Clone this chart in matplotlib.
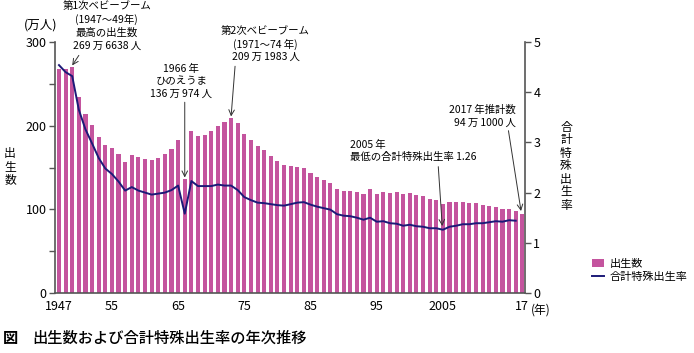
import matplotlib
matplotlib.use("Agg")
import matplotlib.pyplot as plt
from matplotlib.ticker import MultipleLocator

plt.rcParams["font.family"] = ["Noto Sans CJK JP", "DejaVu Sans"]

years = list(range(1947, 2018))
births = [267.9, 268.2, 269.7, 233.8, 213.8, 200.5, 186.8, 177.0, 173.1, 166.5,
          156.7, 165.3, 162.6, 160.6, 158.9, 161.9, 166.0, 171.7, 182.4, 136.1,
          193.6, 187.2, 188.9, 193.4, 200.1, 203.9, 209.2, 203.0, 190.1, 183.3,
          175.5, 170.9, 164.3, 157.7, 152.9, 151.5, 150.9, 149.0, 143.2, 138.3,
          134.7, 131.4, 124.7, 122.2, 122.3, 120.9, 118.8, 123.8, 118.7, 120.7,
          119.2, 120.3, 117.8, 119.1, 117.1, 115.4, 112.4, 111.1, 106.3, 109.3,
          109.0, 109.1, 107.0, 107.1, 105.1, 103.7, 103.0, 100.4, 100.6, 97.7,
          94.1]
tfr_years = list(range(1947, 2017))
tfr = [4.54, 4.40, 4.32, 3.65, 3.26, 2.98, 2.69, 2.48, 2.37, 2.22,
       2.04, 2.11, 2.04, 2.00, 1.96, 1.98, 2.00, 2.05, 2.14, 1.58,
       2.23, 2.13, 2.13, 2.13, 2.16, 2.14, 2.14, 2.05, 1.91, 1.85,
       1.80, 1.79, 1.77, 1.75, 1.74, 1.77, 1.80, 1.81, 1.76, 1.72,
       1.69, 1.66, 1.57, 1.54, 1.53, 1.50, 1.46, 1.50, 1.42, 1.43,
       1.39, 1.38, 1.34, 1.36, 1.33, 1.32, 1.29, 1.29, 1.26, 1.32,
       1.34, 1.37, 1.37, 1.39, 1.39, 1.41, 1.43, 1.42, 1.45, 1.44]
tick_years = [1947, 1955, 1965, 1975, 1985, 1995, 2005, 2017]
tick_labels = ["1947", "55", "65", "75", "85", "95", "2005", "17"]

bar_color = "#C4549E"
line_color = "#1C1A78"
spine_color = "#555555"
ts = "\u2009"  # thin space between numbers and kanji

fig = plt.figure(figsize=(6.94, 3.53), dpi=100)
ax = fig.add_axes([55 / 694, 1 - 293 / 353, 470 / 694, 251 / 353])
ax2 = ax.twinx()

ax.bar(years, births, width=0.62, color=bar_color, label="出生数", zorder=2)
ax2.plot(tfr_years, tfr, color=line_color, lw=1.4, label="合計特殊出生率", zorder=3)

ax.set_xlim(1946.4, 2017.4)
ax.set_ylim(0, 300)
ax2.set_ylim(0, 5)

ax.set_xticks(tick_years)
ax.set_xticklabels(tick_labels, fontsize=9)
ax.tick_params(axis="x", length=0, pad=5)
ax.yaxis.set_major_locator(MultipleLocator(100))
ax.yaxis.set_minor_locator(MultipleLocator(50))
ax.tick_params(axis="y", which="both", length=4, width=1, color=spine_color, labelsize=9, pad=2)
ax2.yaxis.set_major_locator(MultipleLocator(1))
ax2.tick_params(axis="y", length=4, width=1, color=spine_color, labelsize=9, pad=2)

for a in (ax, ax2):
    a.spines["top"].set_visible(False)
    for s in ("left", "right", "bottom"):
        a.spines[s].set_color(spine_color)
        a.spines[s].set_linewidth(1.2)
ax.spines["right"].set_visible(False)
ax2.spines["left"].set_visible(False)
ax2.spines["bottom"].set_visible(False)
ax.patch.set_visible(False)

# axis labels
fig.text(57 / 694, 1 - 25 / 353, "(万人)", fontsize=9, ha="right", va="center")
fig.text(10 / 694, 1 - 167 / 353, "出\n生\n数", fontsize=8.5, ha="center", va="center", linespacing=1.0)
fig.text(566 / 694, 1 - 166 / 353, "合\n計\n特\n殊\n出\n生\n率", fontsize=8.5,
         ha="center", va="center", linespacing=1.0)
fig.text(531 / 694, 1 - 310 / 353, "(年)", fontsize=8.5, ha="left", va="center")

# annotations
arrow = dict(arrowstyle="->", color="#333333", lw=0.7, shrinkA=0, shrinkB=0)
fs = 7.5
ax.text(1954.2, 290, f"第1次ベビーブーム\n(1947～49年)\n最高の出生数\n269{ts}万{ts}6638{ts}人",
        fontsize=fs, ha="center", va="bottom", linespacing=1.3)
ax.annotate("", xy=(1949.0, 272), xytext=(1950.0, 284), arrowprops=arrow)

ax.text(1965.5, 232, f"1966{ts}年\nひのえうま\n136{ts}万{ts}974{ts}人",
        fontsize=fs, ha="center", va="bottom", linespacing=1.3)
ax.annotate("", xy=(1966.0, 138), xytext=(1966.0, 228), arrowprops=arrow)

ax.text(1978.2, 276, f"第2次ベビーブーム\n(1971～74{ts}年)\n209{ts}万{ts}1983{ts}人",
        fontsize=fs, ha="center", va="bottom", linespacing=1.3)
ax.annotate("", xy=(1973.0, 211), xytext=(1973.6, 271), arrowprops=arrow)

ax.text(1991.0, 156, f"2005{ts}年\n最低の合計特殊出生率 1.26",
        fontsize=fs, ha="left", va="bottom", linespacing=1.3)
ax.annotate("", xy=(2004.9, 80), xytext=(2004.3, 151), arrowprops=arrow)

ax.text(2016.0, 198, f"2017{ts}年推計数\n94{ts}万{ts}1000{ts}人",
        fontsize=fs, ha="right", va="bottom", linespacing=1.3)
ax.annotate("", xy=(2016.8, 98), xytext=(2014.9, 194), arrowprops=arrow)

# legend
h1, l1 = ax.get_legend_handles_labels()
h2, l2 = ax2.get_legend_handles_labels()
fig.legend(h1 + h2, l1 + l2, loc="upper left", bbox_to_anchor=(592 / 694, 1 - 259 / 353),
           frameon=False, fontsize=8, handlelength=1.1, handletextpad=0.5,
           labelspacing=0.3, borderaxespad=0, borderpad=0)

fig.text(3 / 694, 1 - 338 / 353, "図", fontsize=11, fontweight="bold", ha="left", va="center")
fig.text(32 / 694, 1 - 338 / 353, "出生数および合計特殊出生率の年次推移", fontsize=11,
         fontweight="medium", ha="left", va="center")

fig.savefig("out.png", dpi=100)
